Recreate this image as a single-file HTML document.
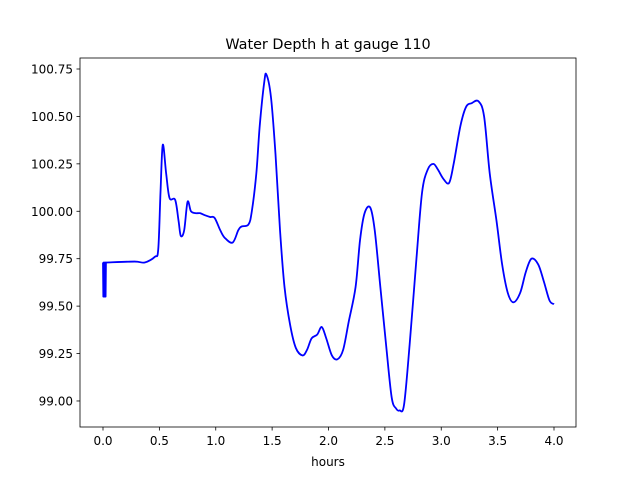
<!DOCTYPE html>
<html><head><meta charset="utf-8"><style>
body{margin:0;background:#fff;}
svg text{font-family:"DejaVu Sans","Liberation Sans",sans-serif;fill:#000;}
</style></head><body>
<svg width="640" height="480" viewBox="0 0 640 480" xmlns="http://www.w3.org/2000/svg">
<rect width="640" height="480" fill="#fff"/>
<text x="328" y="49" font-size="14.4" text-anchor="middle">Water Depth h at gauge 110</text>
<g id="xticks"></g>
<g id="yticks"></g>
<path id="line" fill="none" stroke="#0000ff" stroke-width="1.8" stroke-linejoin="round"/>
<rect x="80" y="58" width="496" height="369" fill="none" stroke="#000" stroke-width="0.8"/>
<text x="328" y="466" font-size="12" text-anchor="middle">hours</text>
</svg>
<script>
const hours=[0,0.003,0.006,0.01,0.013,0.016,0.02,0.023,0.026,0.03,0.28,0.37,0.46,0.49,0.51,0.53,0.56,0.59,0.64,0.67,0.69,0.72,0.75,0.78,0.82,0.86,0.9,0.95,0.99,1.04,1.08,1.15,1.2,1.23,1.29,1.32,1.36,1.39,1.43,1.45,1.49,1.53,1.57,1.61,1.66,1.71,1.77,1.81,1.85,1.9,1.94,1.98,2.03,2.08,2.13,2.18,2.24,2.28,2.32,2.37,2.41,2.46,2.51,2.56,2.6,2.63,2.67,2.72,2.78,2.83,2.88,2.93,2.97,3.02,3.07,3.11,3.17,3.22,3.27,3.33,3.38,3.43,3.49,3.54,3.59,3.64,3.7,3.75,3.8,3.86,3.91,3.96,4.0];
const depth=[99.73,99.55,99.73,99.55,99.73,99.55,99.73,99.55,99.73,99.73,99.735,99.73,99.76,99.8,100.1,100.35,100.2,100.07,100.06,99.95,99.87,99.9,100.05,100.0,99.99,99.99,99.98,99.97,99.965,99.9,99.86,99.835,99.9,99.92,99.93,100.0,100.2,100.45,100.68,100.72,100.6,100.3,99.9,99.6,99.4,99.28,99.24,99.27,99.33,99.35,99.39,99.33,99.24,99.22,99.27,99.42,99.6,99.85,99.99,100.02,99.9,99.6,99.3,99.02,98.96,98.95,98.98,99.3,99.75,100.1,100.22,100.25,100.22,100.17,100.15,100.25,100.45,100.55,100.57,100.58,100.5,100.2,99.95,99.72,99.57,99.52,99.57,99.68,99.75,99.72,99.63,99.53,99.51];
const xTicks=[0,0.5,1,1.5,2,2.5,3,3.5,4];
const xLabels=["0.0","0.5","1.0","1.5","2.0","2.5","3.0","3.5","4.0"];
const yTicks=[99,99.25,99.5,99.75,100,100.25,100.5,100.75];
const yLabels=["99.00","99.25","99.50","99.75","100.00","100.25","100.50","100.75"];
const NS="http://www.w3.org/2000/svg";
function sx(h){return 103+h*112.75;}
function sy(v){return 69+(100.75-v)*189.7;}
const xg=document.getElementById('xticks'),yg=document.getElementById('yticks');
xTicks.forEach((t,i)=>{
 const l=document.createElementNS(NS,'line');
 l.setAttribute('x1',sx(t));l.setAttribute('x2',sx(t));l.setAttribute('y1',427);l.setAttribute('y2',430.5);l.setAttribute('stroke','#000');l.setAttribute('stroke-width','0.8');
 
 
 xg.appendChild(l);
 const tx=document.createElementNS(NS,'text');
 tx.setAttribute('x',sx(t));tx.setAttribute('y',445);tx.setAttribute('font-size','12');tx.setAttribute('text-anchor','middle');tx.textContent=xLabels[i];
 
 
 xg.appendChild(tx);
});
yTicks.forEach((t,i)=>{
 const l=document.createElementNS(NS,'line');
 l.setAttribute('x1',76.5);l.setAttribute('x2',80);l.setAttribute('y1',sy(t));l.setAttribute('y2',sy(t));l.setAttribute('stroke','#000');l.setAttribute('stroke-width','0.8');
 
 
 yg.appendChild(l);
 const tx=document.createElementNS(NS,'text');
 tx.setAttribute('x',73);tx.setAttribute('y',sy(t)+4.5);tx.setAttribute('font-size','12');tx.setAttribute('text-anchor','end');tx.textContent=yLabels[i];
 
 
 yg.appendChild(tx);
});
// smooth path (Catmull-Rom) through data points
const pts=hours.map((h,i)=>[sx(h),sy(depth[i])]);
let d='M'+pts[0][0]+','+pts[0][1];
for(let i=0;i<pts.length-1;i++){
 const p0=pts[i-1]||pts[i],p1=pts[i],p2=pts[i+1],p3=pts[i+2]||p2;
 if(i<9){d+=' L'+p2[0]+','+p2[1];continue;}
 const c1=[p1[0]+(p2[0]-p0[0])/6,p1[1]+(p2[1]-p0[1])/6];
 const c2=[p2[0]-(p3[0]-p1[0])/6,p2[1]-(p3[1]-p1[1])/6];
 d+=' C'+c1[0]+','+c1[1]+' '+c2[0]+','+c2[1]+' '+p2[0]+','+p2[1];
}
document.getElementById('line').setAttribute('d',d);
</script>
</body></html>
